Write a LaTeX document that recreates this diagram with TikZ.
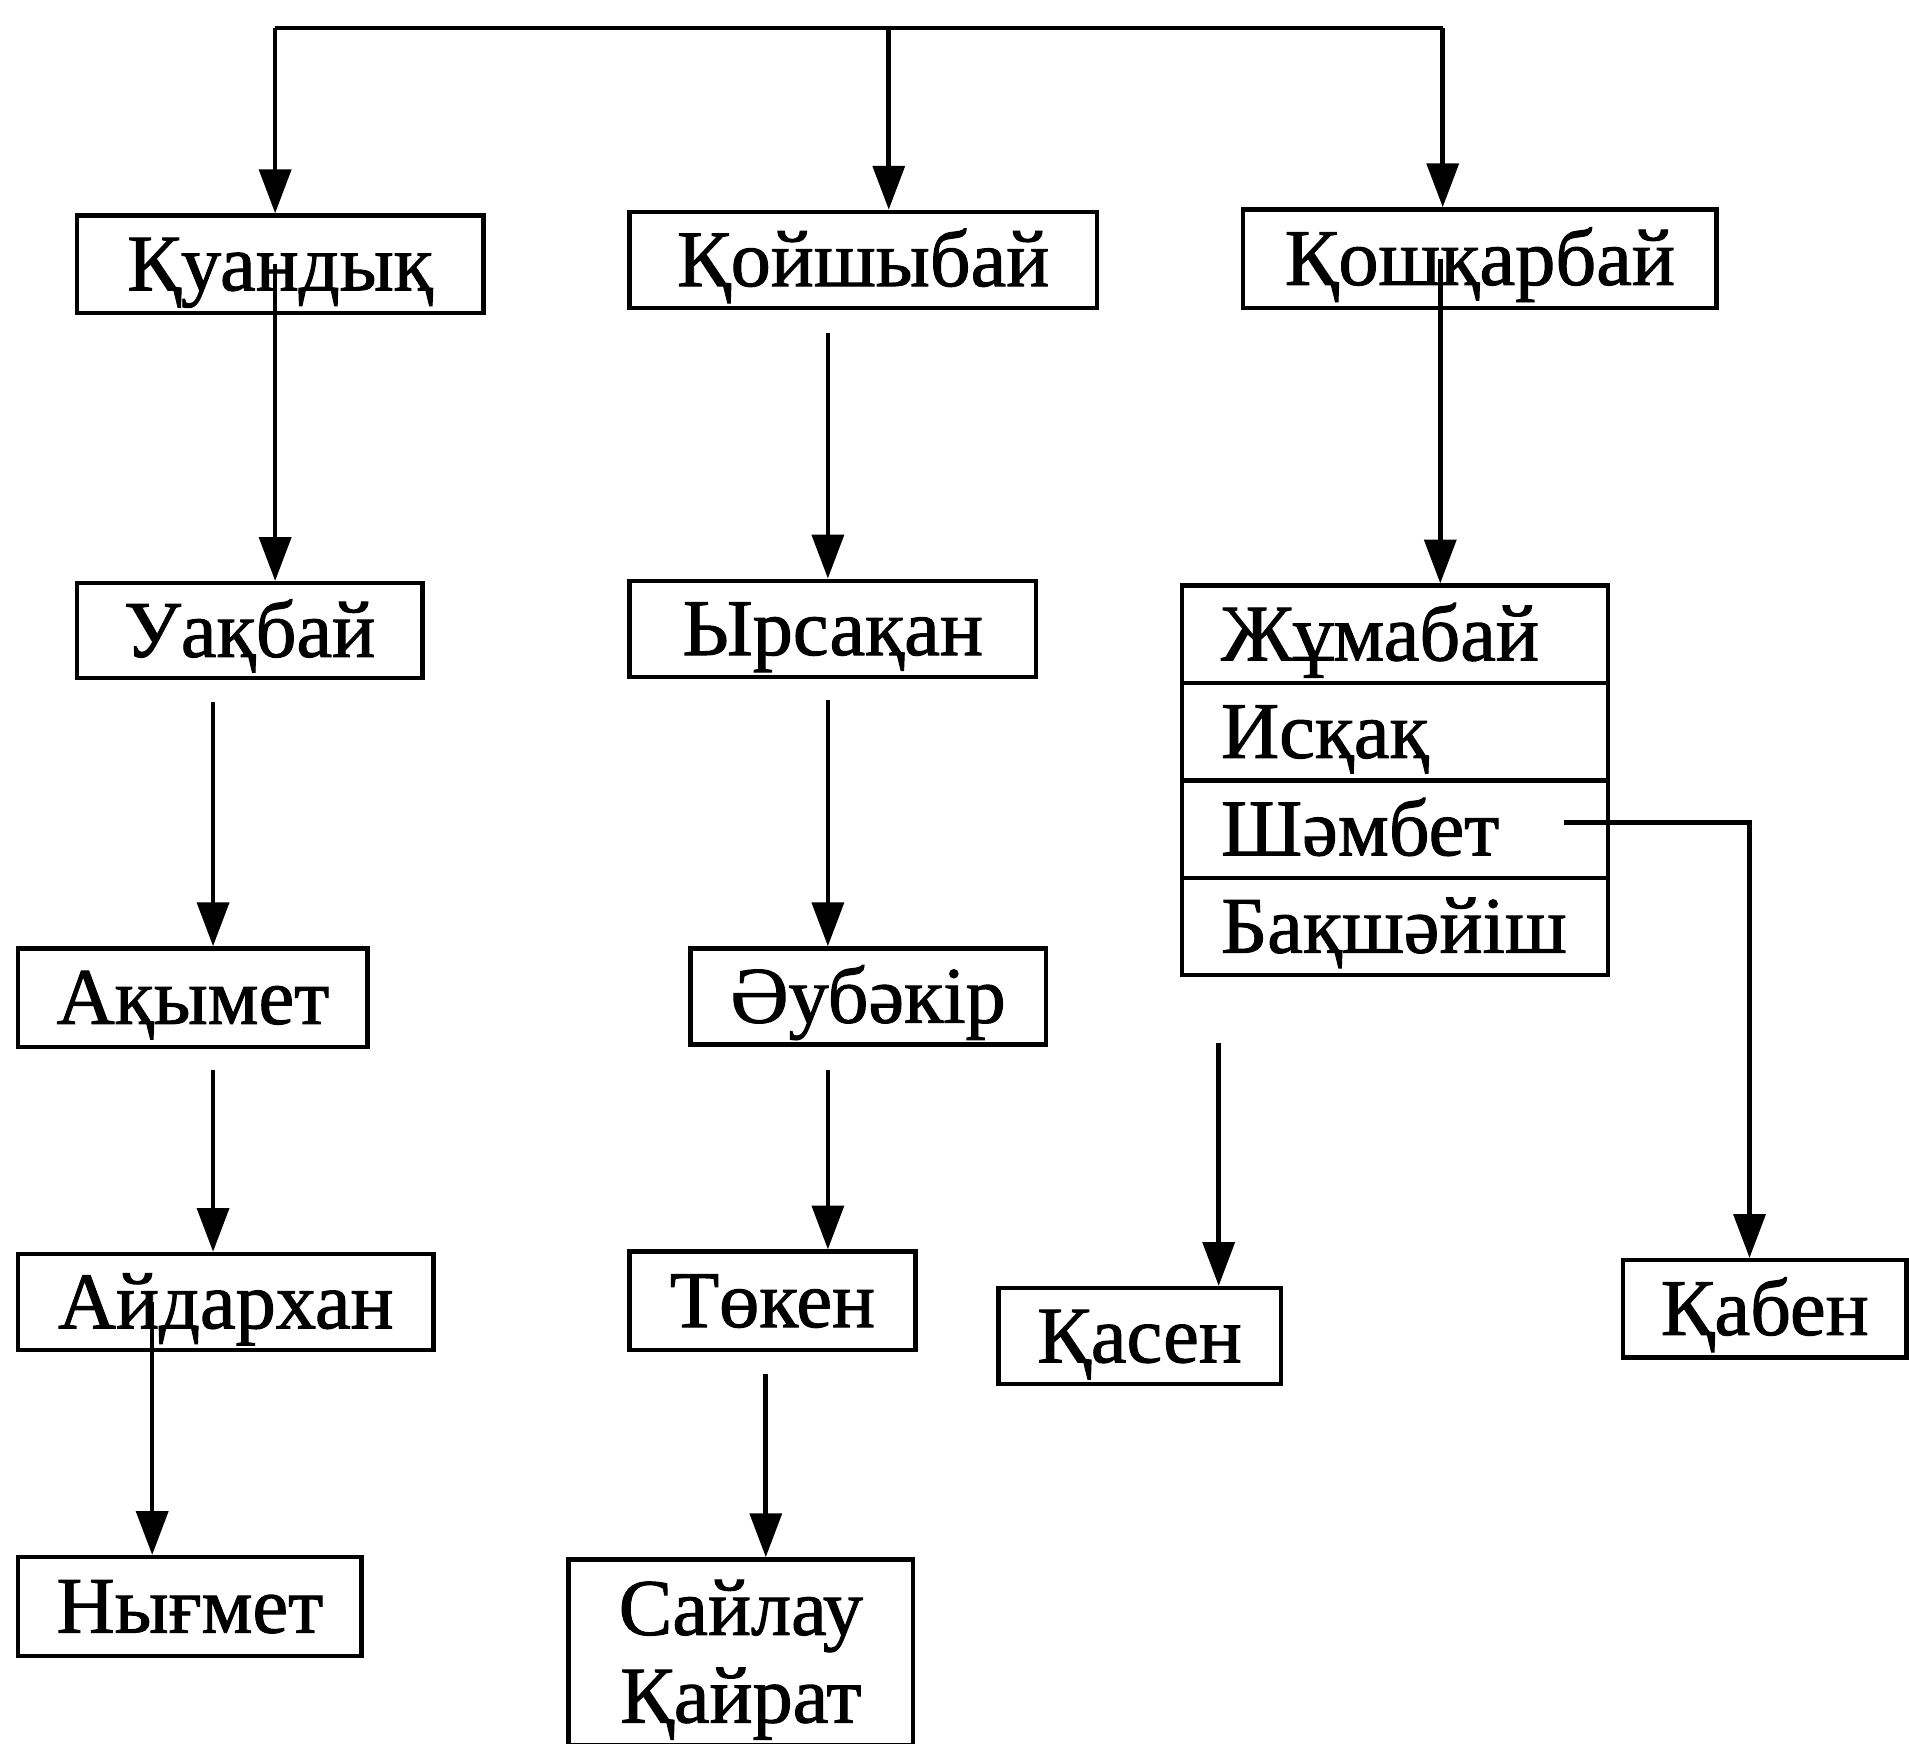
\documentclass[tikz,border=0pt]{standalone}
\usepackage{fontspec}
\setmainfont[FakeBold=1.2]{Liberation Serif}
\usetikzlibrary{arrows.meta,calc}
\begin{document}
\begin{tikzpicture}[x=0.5pt,y=-0.5pt,
  box/.style={draw, line width=1.8pt, inner sep=0pt, minimum height=40pt,
    text height=21.5pt, text depth=0pt, font=\fontsize{33}{38}\selectfont},
  rowbox/.style={box, minimum height=40pt, inner xsep=16pt, text width=143pt, align=left},
  conn/.style={line width=1.9pt},
  arr/.style={conn, -{Triangle[length=18pt,width=13pt]}},
]
\useasboundingbox (0,0) rectangle (1568,1432);
\clip (0,0) rectangle (1568,1432);

% boxes
\node[box, minimum width=167pt, minimum height=40pt] (kuan) at (230,217) {Қуандық};
\node[box, minimum width=192pt, minimum height=39.5pt] (koish) at (709,213.5) {Қойшыбай};
\node[box, minimum width=194.5pt, minimum height=40.5pt] (kosh) at (1215.5,212.5) {Қошқарбай};
\node[box, minimum width=142pt, minimum height=39pt] (uaq) at (205,518) {Уақбай};
\node[box, minimum width=167pt, minimum height=39.5pt] (yrs) at (684,516.5) {Ырсақан};
\node[rowbox] (jum) at (1146,521) {Жұмабай};
\node[rowbox] (isq) at (1146,601) {Исқақ};
\node[rowbox] (sham) at (1146,681) {Шәмбет};
\node[rowbox] (baq) at (1146,761) {Бақшәйіш};
\node[box, minimum width=143.5pt, minimum height=40.5pt] (aqym) at (158.5,819.5) {Ақымет};
\node[box, minimum width=146pt, minimum height=39.5pt] (aub) at (713,818.5) {Әубәкір};
\node[box, minimum width=170.5pt, minimum height=39.5pt] (aid) at (185.5,1069.5) {Айдархан};
\node[box, minimum width=117.5pt, minimum height=40.5pt] (tok) at (634.5,1068.5) {Төкен};
\node[box, minimum width=116pt, minimum height=39.5pt] (qas) at (936,1097.5) {Қасен};
\node[box, minimum width=116.5pt, minimum height=40pt] (qab) at (1449.5,1075) {Қабен};
\node[box, minimum width=141pt, minimum height=40.5pt] (nyg) at (156,1319.5) {Нығмет};
\node[box, align=center, anchor=north, minimum width=141.5pt, minimum height=82pt,
  text height=57.5pt, text depth=0pt, font=\fontsize{33}{36}\selectfont,
  minimum height=76.5pt] (sai) at (608.5,1279) {Сайлау\\Қайрат};
\draw[line width=1.8pt] (sai.south west) -- ++(0,-20pt) (sai.south east) -- ++(0,-20pt);

% connectors
\coordinate (tl) at (226,23);
\coordinate (tm) at (730,23);
\coordinate (tr) at (1185,23);
\coordinate (c0) at (125,0);
\coordinate (c1) at (175,0);
\coordinate (c2) at (680,0);
\coordinate (c3) at (629,0);
\coordinate (c4) at (1183,0);
\coordinate (c5) at (1001,0);
\coordinate (c6) at (1437,0);

\draw[conn] (tl) -- (tr);
\draw[arr] (tl) -- (tl |- kuan.north);
\draw[arr] (tm) -- (tm |- koish.north);
\draw[arr] (tr) -- (tr |- kosh.north);

\draw[arr] (tl |- kuan.center) -- (tl |- uaq.north);
\draw[arr, shorten <=9.5pt] (c2 |- koish.south) -- (c2 |- yrs.north);
\draw[arr] (c4 |- kosh.center) -- (c4 |- jum.north);

\draw[arr, shorten <=9pt] (c1 |- uaq.south) -- (c1 |- aqym.north);
\draw[arr, shorten <=8.5pt] (c2 |- yrs.south) -- (c2 |- aub.north);

\draw[arr, shorten <=8.5pt] (c1 |- aqym.south) -- (c1 |- aid.north);
\draw[arr, shorten <=9.5pt] (c2 |- aub.south) -- (c2 |- tok.north);

\draw[arr] (c0 |- aid.center) -- (c0 |- nyg.north);
\draw[arr, shorten <=9pt] (c3 |- tok.south) -- (c3 |- sai.north);

\draw[arr, shorten <=27pt] (c5 |- baq.south) -- (c5 |- qas.north);
\draw[arr] ([xshift=-19pt,yshift=2.75pt]sham.east) -| (c6 |- qab.north);
\end{tikzpicture}
\end{document}
